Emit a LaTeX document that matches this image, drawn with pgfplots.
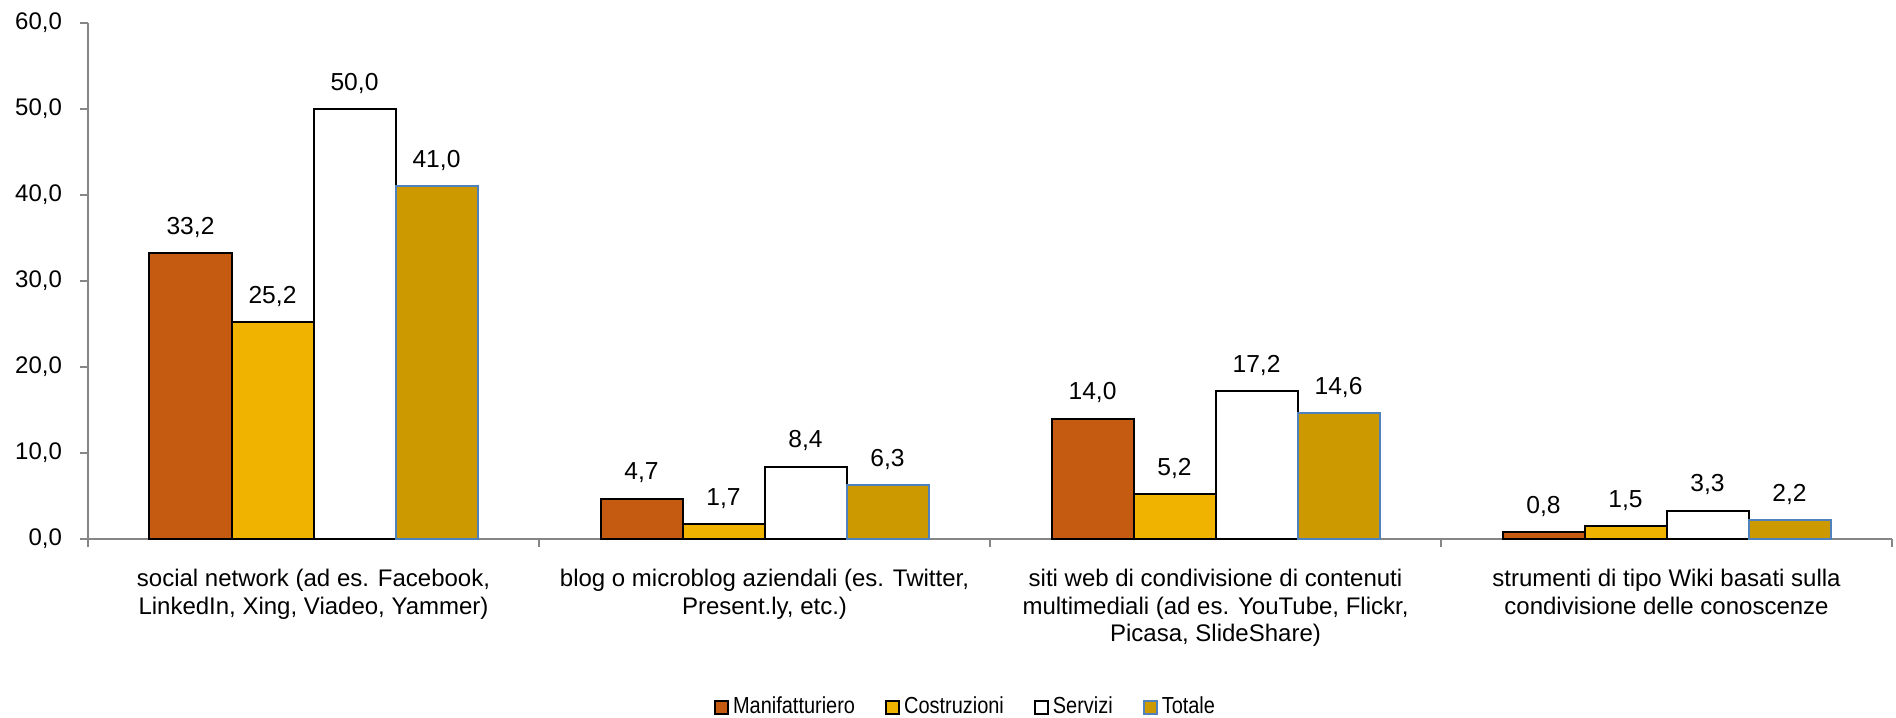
\documentclass[border=0pt]{standalone}
\usepackage{fontspec}
\setmainfont{Liberation Sans}
\newfontfamily\legfont{Liberation Sans}[FakeStretch=0.86]
\usepackage{pgfplots}
\pgfplotsset{compat=1.18}
\definecolor{manif}{RGB}{197,90,17}
\definecolor{costr}{RGB}{240,180,0}
\definecolor{tot}{RGB}{204,153,0}
\definecolor{totedge}{RGB}{79,129,189}
\definecolor{axgray}{RGB}{134,134,134}
\begin{document}
\begin{tikzpicture}
\pgfkeys{/pgf/number format/.cd, fixed, fixed zerofill, precision=1, use comma, assume math mode=true}
\pgfplotsset{sq legend/.style={legend image code/.code={\draw[##1, line width=1pt] (0pt,-3.25pt) rectangle (6.5pt,3.25pt);}}}
\begin{axis}[
  scale only axis,
  width=902pt, height=258pt,
  ybar=0pt, bar width=41pt,
  ymin=0, ymax=60, ytick={0,10,...,60},
  enlarge y limits=false,
  xmin=-0.5, xmax=3.5,
  xtick={-0.5,0.5,1.5,2.5,3.5},
  xticklabels={},
  extra x ticks={0,1,2,3},
  extra x tick labels={{social network (ad es. Facebook,\\LinkedIn, Xing, Viadeo, Yammer)},
    {blog o microblog aziendali (es. Twitter,\\Present.ly, etc.)},
    {siti web di condivisione di contenuti\\multimediali (ad es. YouTube, Flickr,\\Picasa, SlideShare)},
    {strumenti di tipo Wiki basati sulla\\condivisione delle conoscenze}},
  extra x tick style={major tick length=0pt, xticklabel style={align=center, font=\fontsize{12}{13.8}\selectfont, yshift=-11.5pt}},
  axis lines*=left,
  axis line style={draw=axgray, line width=1pt},
  tick align=outside,
  major tick length=4pt,
  tick style={draw=axgray, line width=1pt},
  yticklabel style={font=\fontsize{12}{14}\selectfont, xshift=-5.5pt},
  nodes near coords,
  every node near coord/.append style={font=\fontsize{12.3}{14}\selectfont, yshift=4pt, text=black},
  legend style={at={(0.487,0)}, anchor=center, yshift=-84pt, draw=none, fill=none,
    legend columns=-1, font=\legfont\fontsize{11.6}{13}\selectfont,
    /tikz/every even column/.append style={column sep=13pt}},
]
\addplot[sq legend, fill=manif, draw=black, line width=1pt] coordinates {(0,33.2) (1,4.7) (2,14.0) (3,0.8)};
\addplot[sq legend, fill=costr, draw=black, line width=1pt] coordinates {(0,25.2) (1,1.7) (2,5.2) (3,1.5)};
\addplot[sq legend, fill=white, draw=black, line width=1pt] coordinates {(0,50.0) (1,8.4) (2,17.2) (3,3.3)};
\addplot[sq legend, fill=tot, draw=totedge, line width=1pt] coordinates {(0,41.0) (1,6.3) (2,14.6) (3,2.2)};
\legend{Manifatturiero, Costruzioni, Servizi, Totale}
\coordinate (SW) at (rel axis cs:0,0);
\coordinate (NE) at (rel axis cs:1,1);
\end{axis}
\pgfresetboundingbox
\path ([xshift=-44pt,yshift=-89pt]SW) rectangle ([xshift=2pt,yshift=11.5pt]NE);
\end{tikzpicture}
\end{document}
